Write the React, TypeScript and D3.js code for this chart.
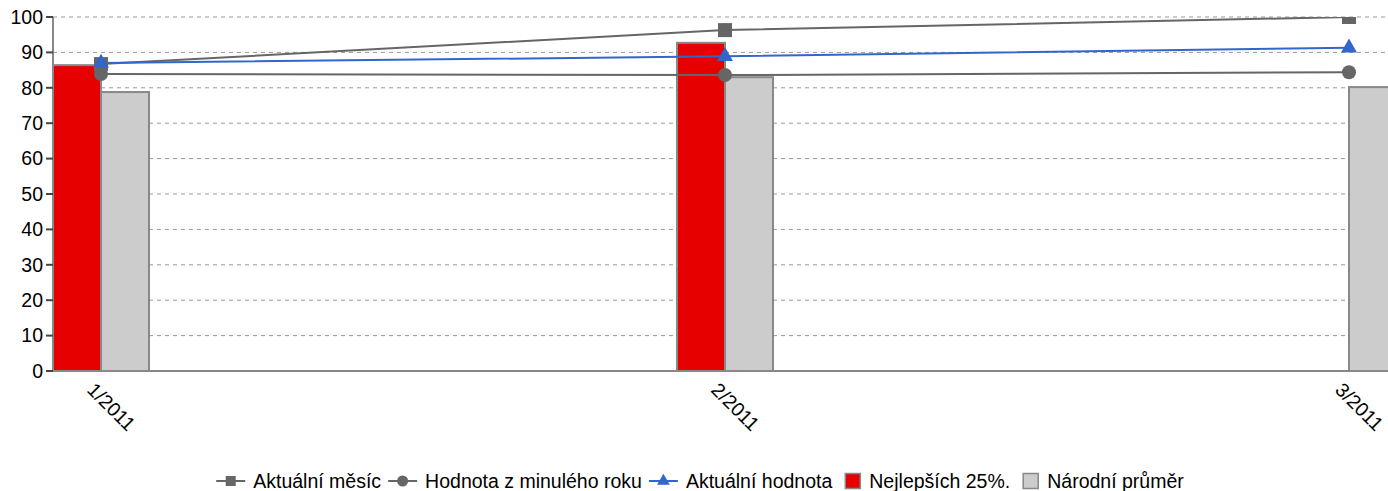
import React, { useEffect, useRef } from "react";
import * as d3 from "d3";

const categories = ["1/2011", "2/2011", "3/2011"];
const aktualniMesic = [86.7, 96.3, 100];
const minulyRok = [83.9, 83.6, 84.4];
const aktualniHodnota = [87.0, 88.9, 91.3];
const nejlepsich25 = [86.4, 92.7, null];
const narodniPrumer = [78.8, 83.0, 80.2];
const yTicks = [0, 10, 20, 30, 40, 50, 60, 70, 80, 90, 100];

const W = 1388;
const H = 491;
const FONT = "'Liberation Sans', Arial, sans-serif";
const FS = 19.5;

export default function App() {
  const ref = useRef<SVGSVGElement | null>(null);

  useEffect(() => {
    document.body.style.margin = "0";
    const svg = d3.select(ref.current);
    svg.selectAll("*").remove();

    const left = 53, top = 17, bottom = 371, right = 1397;
    const barW = 48;
    const x = d3.scalePoint<string>().domain(categories).range([left, right]).padding(barW / 624);
    const y = d3.scaleLinear().domain([0, 100]).range([bottom, top]);

    const defs = svg.append("defs");
    defs.append("clipPath").attr("id", "plotclip").append("rect")
      .attr("x", left).attr("y", top).attr("width", W - left).attr("height", bottom - top + 10);

    // gridlines
    svg.append("g").selectAll("line").data(yTicks.filter(t => t > 0)).join("line")
      .attr("x1", left).attr("x2", W)
      .attr("y1", d => y(d)).attr("y2", d => y(d))
      .attr("stroke", "#999").attr("stroke-width", 1).attr("stroke-dasharray", "4,4");

    // bars
    const bars = svg.append("g");
    categories.forEach((c, i) => {
      const cx = x(c)!;
      const r = nejlepsich25[i];
      if (r != null) {
        bars.append("rect").attr("x", cx - barW).attr("y", y(r)).attr("width", barW).attr("height", y(0) - y(r))
          .attr("fill", "#e60000").attr("stroke", "#888").attr("stroke-width", 2);
      }
      const g = narodniPrumer[i];
      if (g != null) {
        bars.append("rect").attr("x", cx).attr("y", y(g)).attr("width", barW).attr("height", y(0) - y(g))
          .attr("fill", "#cccccc").attr("stroke", "#888").attr("stroke-width", 2);
      }
    });

    // axes
    svg.append("line").attr("x1", left).attr("x2", W).attr("y1", bottom).attr("y2", bottom)
      .attr("stroke", "#888").attr("stroke-width", 2);
    svg.append("line").attr("x1", left).attr("x2", left).attr("y1", top).attr("y2", bottom + 1)
      .attr("stroke", "#888").attr("stroke-width", 2);
    const yt = svg.append("g");
    yTicks.forEach(t => {
      yt.append("line").attr("x1", left - 7).attr("x2", left).attr("y1", y(t)).attr("y2", y(t))
        .attr("stroke", "#444").attr("stroke-width", 2);
      yt.append("text").attr("x", left - 10).attr("y", y(t)).attr("dy", "0.35em")
        .attr("text-anchor", "end").attr("font-family", FONT).attr("font-size", FS).attr("fill", "#000").text(String(t));
    });
    categories.forEach(c => {
      const cx = x(c)!;
      svg.append("text").attr("transform", `translate(${cx - 15},${391}) rotate(45)`)
        .attr("font-family", FONT).attr("font-size", FS).attr("fill", "#000").text(c);
    });

    // lines
    const line = d3.line<number>().x((_, i) => x(categories[i])!).y(d => y(d));
    const lg = svg.append("g").attr("clip-path", "url(#plotclip)");
    lg.append("path").attr("d", line(aktualniMesic)).attr("fill", "none").attr("stroke", "#666").attr("stroke-width", 2);
    lg.append("path").attr("d", line(minulyRok)).attr("fill", "none").attr("stroke", "#666").attr("stroke-width", 2);
    lg.append("path").attr("d", line(aktualniHodnota)).attr("fill", "none").attr("stroke", "#3366cc").attr("stroke-width", 2);
    aktualniMesic.forEach((v, i) => {
      lg.append("rect").attr("x", x(categories[i])! - 7).attr("y", y(v) - 7).attr("width", 14).attr("height", 14).attr("fill", "#666");
    });
    minulyRok.forEach((v, i) => {
      lg.append("circle").attr("cx", x(categories[i])!).attr("cy", y(v)).attr("r", 7).attr("fill", "#666");
    });
    const tri = d3.symbol().type(d3.symbolTriangle).size(110);
    aktualniHodnota.forEach((v, i) => {
      lg.append("path").attr("d", tri()).attr("transform", `translate(${x(categories[i])},${y(v)})`).attr("fill", "#3366cc");
    });

    // legend
    const items = [
      { label: "Aktuální měsíc", kind: "square", color: "#666" },
      { label: "Hodnota z minulého roku", kind: "circle", color: "#666" },
      { label: "Aktuální hodnota", kind: "triangle", color: "#3366cc" },
      { label: "Nejlepších 25%.", kind: "box", color: "#e60000" },
      { label: "Národní průměr", kind: "box", color: "#cccccc" },
    ];
    const leg = svg.append("g");
    const ly = 481;
    let cur = 0;
    items.forEach((it, idx) => {
      const g = leg.append("g").attr("transform", `translate(${cur},0)`);
      let mw;
      if (it.kind === "box") {
        g.append("rect").attr("x", 0).attr("y", ly - 7.5).attr("width", 15).attr("height", 15)
          .attr("fill", it.color).attr("stroke", "#888").attr("stroke-width", 1.5);
        mw = 15 + 9;
      } else {
        g.append("line").attr("x1", 0).attr("x2", 29).attr("y1", ly).attr("y2", ly).attr("stroke", it.color).attr("stroke-width", 2);
        if (it.kind === "square") g.append("rect").attr("x", 9.5).attr("y", ly - 5).attr("width", 10).attr("height", 10).attr("fill", it.color);
        if (it.kind === "circle") g.append("circle").attr("cx", 14.5).attr("cy", ly).attr("r", 5.5).attr("fill", it.color);
        if (it.kind === "triangle") g.append("path").attr("d", d3.symbol().type(d3.symbolTriangle).size(70)()).attr("transform", `translate(14.5,${ly})`).attr("fill", it.color);
        mw = 29 + 8;
      }
      const t = g.append("text").attr("x", mw).attr("y", ly).attr("dy", "0.35em")
        .attr("font-family", FONT).attr("font-size", FS).attr("fill", "#000").text(it.label);
      const tw = (t.node() as SVGTextElement).getComputedTextLength();
      const w = mw + tw;
      cur += w + (idx < items.length - 1 && items[idx + 1].kind === "box" ? 13 : 7);
    });
    const total = cur - 7;
    leg.attr("transform", `translate(${700 - total / 2},0)`);
  }, []);

  return <svg ref={ref} width={W} height={H} style={{ display: "block" }} />;
}
